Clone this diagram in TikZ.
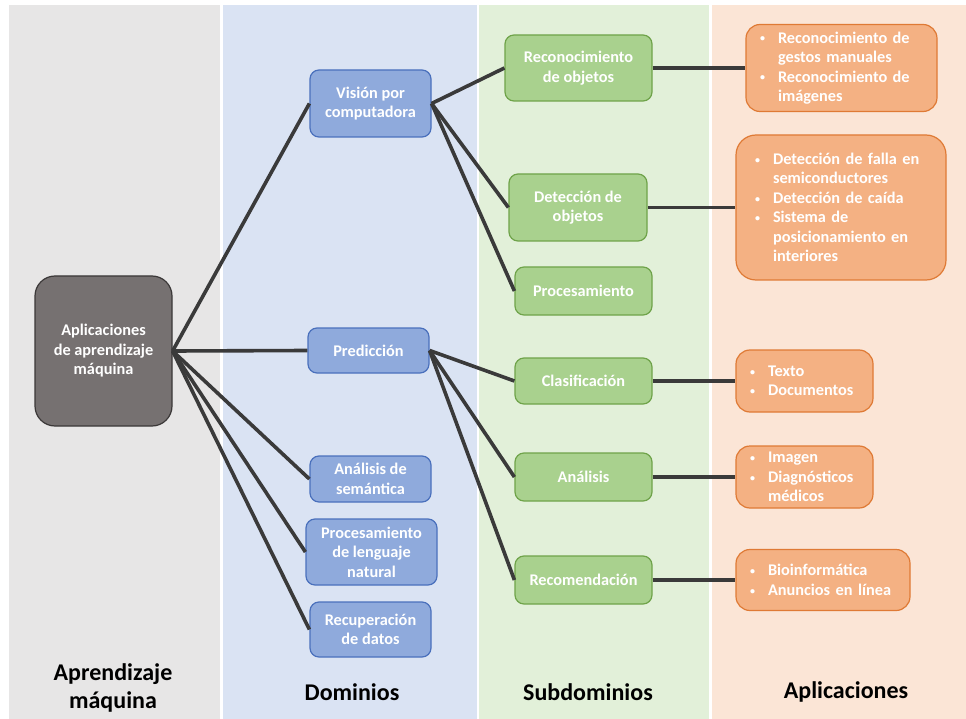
\documentclass[tikz,border=0pt]{standalone}
\usepackage{fontspec}
\setmainfont{Carlito}
\definecolor{panelgray}{HTML}{E7E6E6}
\definecolor{panelblue}{HTML}{DAE3F3}
\definecolor{panelgreen}{HTML}{E2F0D9}
\definecolor{panelpeach}{HTML}{FBE5D6}
\definecolor{rootfill}{HTML}{767171}
\definecolor{rootline}{HTML}{3B3838}
\definecolor{domfill}{HTML}{8FAADC}
\definecolor{domline}{HTML}{4A70BC}
\definecolor{subfill}{HTML}{A9D18E}
\definecolor{subline}{HTML}{6FA34A}
\definecolor{appfill}{HTML}{F4B183}
\definecolor{appline}{HTML}{DF7A35}
\definecolor{linkcol}{HTML}{3A3A3A}
\newcommand\boxfont{\bfseries\fontsize{16.3}{19.5}\selectfont}
\newcommand\headfont{\bfseries\fontsize{24}{28}\selectfont}
% small list bullet followed by the hanging indent
\newcommand\bitem{\makebox[19pt][l]{\hspace{1pt}\raisebox{1.2pt}{\fontsize{10}{10}\selectfont •}}}
\newcommand\bcont{\hspace*{19pt}}
\begin{document}
\begin{tikzpicture}[x=1pt,y=-1pt,
  base/.style={draw, line width=1.2pt, text=white, font=\boxfont, align=center, inner sep=2pt},
  rootbox/.style={base, fill=rootfill, draw=rootline, rounded corners=20pt},
  dombox/.style={base, fill=domfill, draw=domline, rounded corners=9pt},
  subbox/.style={base, fill=subfill, draw=subline, rounded corners=9pt},
  appbox/.style={base, fill=appfill, draw=appline, rounded corners=14pt, align=left},
  link/.style={draw=linkcol, line width=3.6pt},
  head/.style={font=\headfont, text=black, align=center}]

% background and the four column panels
\fill[white] (0,0) rectangle (966,719);
\fill[panelgray]  (9,5)   rectangle (220,719);
\fill[panelblue]  (223,5) rectangle (477,719);
\fill[panelgreen] (479,5) rectangle (709,719);
\fill[panelpeach] (712,5) rectangle (966,719);

% root
\node[rootbox, minimum width=137pt, minimum height=150pt] (root) at (103.5,351)
  {Aplicaciones\\de aprendizaje\\máquina};

% domains
\node[dombox, minimum width=121pt, minimum height=67pt] (vis) at (370.5,103.5) {Visión por\\computadora};
\node[dombox, minimum width=121pt, minimum height=45pt] (pred) at (368.5,350.5) {Predicción};
\node[dombox, minimum width=121pt, minimum height=46pt] (sem) at (370.5,479) {Análisis de\\semántica};
\node[dombox, minimum width=131pt, minimum height=66pt] (pln) at (371.5,552) {Procesamiento\\de lenguaje\\natural};
\node[dombox, minimum width=121pt, minimum height=55pt] (recu) at (370.5,629.5) {Recuperación\\de datos};

% subdomains
\node[subbox, minimum width=147pt, minimum height=66pt] (reco) at (578.5,68) {Reconocimiento\\de objetos};
\node[subbox, minimum width=138pt, minimum height=67pt] (dete) at (578,207.5) {Detección de\\objetos};
\node[subbox, minimum width=137pt, minimum height=48pt] (proc) at (583.5,291) {Procesamiento};
\node[subbox, minimum width=137pt, minimum height=46pt] (clas) at (583.5,381) {Clasificación};
\node[subbox, minimum width=137pt, minimum height=48pt] (anal) at (583.5,477) {Análisis};
\node[subbox, minimum width=137pt, minimum height=48pt] (reco2) at (583.5,580) {Recomendación};

% applications
\node[appbox, inner xsep=13pt, text width=165pt, minimum height=87pt] (a1) at (841.5,68)
  {\bitem Reconocimiento de\\\bcont gestos manuales\\\bitem Reconocimiento de\\\bcont imágenes};
\node[appbox, inner xsep=18pt, text width=174pt, minimum height=145pt, rounded corners=20pt] (a2) at (841,207.5)
  {\bitem Detección de falla en\\\bcont semiconductores\\\bitem Detección de caída\\\bitem Sistema de\\\bcont posicionamiento en\\\bcont interiores};
\node[appbox, inner xsep=13pt, text width=111pt, minimum height=62pt] (a3) at (804.5,381)
  {\bitem Texto\\\bitem Documentos};
\node[appbox, inner xsep=13pt, text width=111pt, minimum height=62pt] (a4) at (804.5,477)
  {\bitem Imagen\\\bitem Diagnósticos\\\bcont médicos};
\node[appbox, inner xsep=13pt, text width=148pt, minimum height=61pt] (a5) at (823,580)
  {\bitem Bioinformática\\\bitem Anuncios en línea};

% connectors
\foreach \d in {vis,pred,sem,pln,recu} \draw[link] (root.east) -- (\d.west);
\foreach \s in {reco,dete,proc} \draw[link] (vis.east) -- (\s.west);
\foreach \s in {clas,anal,reco2} \draw[link] (pred.east) -- (\s.west);
\draw[link] (reco.east) -- (a1.west);
\draw[link] (dete.east) -- (a2.west);
\draw[link] (clas.east) -- (a3.west);
\draw[link] (anal.east) -- (a4.west);
\draw[link] (reco2.east) -- (a5.west);

% column titles
\node[head] (t1) at (113,688) {Aprendizaje\\máquina};
\node[head] (t2) at (352,692) {Dominios};
\node[head] (t3) at (588,692) {Subdominios};
\node[head] (t4) at (846,692) {Aplicaciones};
\end{tikzpicture}
\end{document}
